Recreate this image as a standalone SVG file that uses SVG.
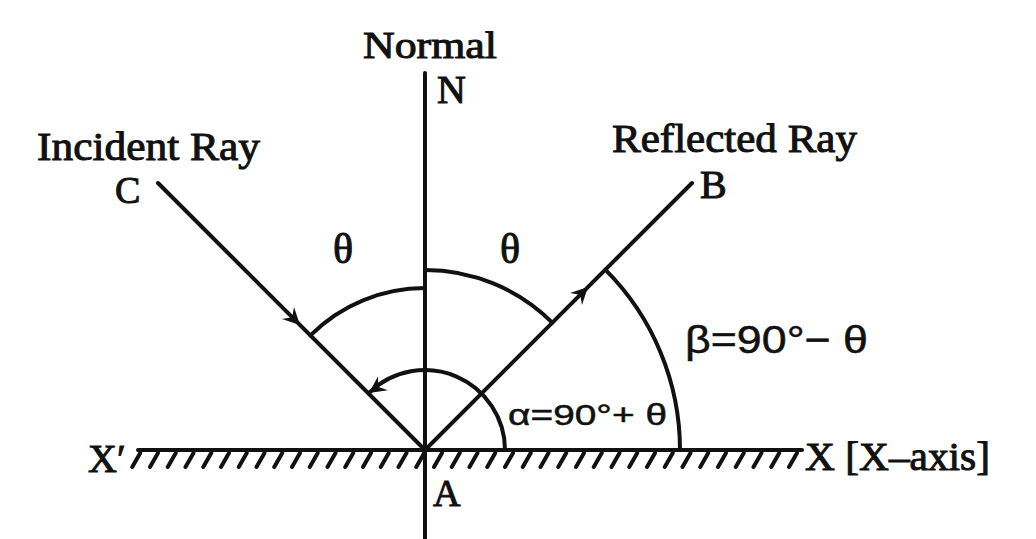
<svg xmlns="http://www.w3.org/2000/svg" width="1036" height="539" viewBox="0 0 1036 539">
  <style>
    .ln { stroke: #111; stroke-width: 4; fill: none; stroke-linecap: round; }
    .hatch { stroke: #111; stroke-width: 4; fill: none; stroke-linecap: round; }
    .serif { font-family: "Liberation Serif", "Times New Roman", serif; fill: #111; stroke: #111; stroke-width: 1; }
    .sans { font-family: "Liberation Sans", Arial, sans-serif; fill: #111; stroke: #111; stroke-width: 0.5; }
  </style>
  <defs>
    <path id="ah" d="M0,0 L-17,-8.5 L-11,0 L-17,8.5 Z" fill="#111"/>
  </defs>
  <rect width="1036" height="539" fill="#ffffff"/>

  <g id="mirror">
    <line class="ln" x1="138" y1="450" x2="802" y2="450"/>
    <path class="hatch" d="M140.25,453 l-8,14 M158,453 l-8,14 M175.75,453 l-8,14 M193.5,453 l-8,14 M211.25,453 l-8,14 M229,453 l-8,14 M246.75,453 l-8,14 M264.5,453 l-8,14 M282.25,453 l-8,14 M300,453 l-8,14 M317.75,453 l-8,14 M335.5,453 l-8,14 M353.25,453 l-8,14 M371,453 l-8,14 M388.75,453 l-8,14 M406.5,453 l-8,14 M424.25,453 l-8,14 M442,453 l-8,14 M459.75,453 l-8,14 M477.5,453 l-8,14 M495.25,453 l-8,14 M513,453 l-8,14 M530.75,453 l-8,14 M548.5,453 l-8,14 M566.25,453 l-8,14 M584,453 l-8,14 M601.75,453 l-8,14 M619.5,453 l-8,14 M637.25,453 l-8,14 M655,453 l-8,14 M672.75,453 l-8,14 M690.5,453 l-8,14 M708.25,453 l-8,14 M726,453 l-8,14 M743.75,453 l-8,14 M761.5,453 l-8,14 M779.25,453 l-8,14 M797,453 l-8,14"/>
    <text class="serif" x="88" y="472" font-size="40">X′</text>
    <text class="serif" x="805" y="470" font-size="40" textLength="185" lengthAdjust="spacingAndGlyphs">X [X–axis]</text>
  </g>

  <g id="normal">
    <line class="ln" x1="425" y1="73" x2="425" y2="539"/>
    <text class="serif" x="430" y="58" font-size="38" text-anchor="middle" textLength="134" lengthAdjust="spacingAndGlyphs">Normal</text>
    <text class="serif" x="437" y="103" font-size="40">N</text>
    <text class="serif" x="433" y="506" font-size="38">A</text>
  </g>

  <g id="incident">
    <text class="serif" x="37" y="160" font-size="40" textLength="223" lengthAdjust="spacingAndGlyphs">Incident Ray</text>
    <text class="serif" x="115" y="203" font-size="38">C</text>
  </g>

  <g id="reflected">
    <text class="serif" x="612" y="152" font-size="40" textLength="245" lengthAdjust="spacingAndGlyphs">Reflected Ray</text>
    <text class="serif" x="700" y="198" font-size="40">B</text>
  </g>

  <g id="angles">
    <text class="serif" x="333" y="263" font-size="42">θ</text>
    <text class="serif" x="500" y="263" font-size="42">θ</text>
    <text class="sans" x="685" y="353" font-size="39" textLength="183" lengthAdjust="spacingAndGlyphs">β=90°− θ</text>
    <text class="sans" x="508" y="425" font-size="30" textLength="159" lengthAdjust="spacingAndGlyphs">α=90°+ θ</text>
  </g>

  <g id="connectors">
    <line class="ln" x1="158" y1="183" x2="425" y2="450"/>
    <line class="ln" x1="425" y1="450" x2="692" y2="183"/>
    <use href="#ah" transform="translate(300,325) rotate(45)"/>
    <use href="#ah" transform="translate(588,287) rotate(-45)"/>
    <path class="ln" d="M425,288 A162,162 0 0 0 310.4,335.4"/>
    <path class="ln" d="M425,270 A180,180 0 0 1 552.3,322.7"/>
    <path class="ln" d="M605.3,269.7 A255,255 0 0 1 680,450"/>
    <path class="ln" d="M505,450 A80,80 0 0 0 370,392"/>
    <use href="#ah" transform="translate(369,393) rotate(145)"/>
  </g>
</svg>
